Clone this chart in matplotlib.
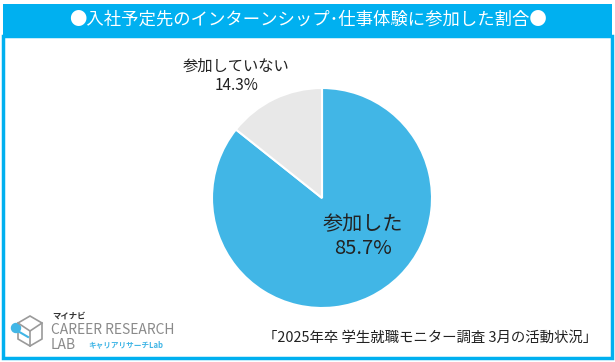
import matplotlib.pyplot as plt
from matplotlib.patches import Rectangle, Polygon, Circle

plt.rcParams['font.family'] = ['Noto Sans CJK JP', 'DejaVu Sans']

# data
labels = ["参加した", "参加していない"]
values = [85.7, 14.3]
colors = ["#41B6E6", "#E8E8E8"]
title = "●入社予定先のインターンシップ･仕事体験に参加した割合●"
source = "「2025年卒 学生就職モニター調査 3月の活動状況」"

W, H = 615, 362
fig = plt.figure(figsize=(W / 100, H / 100), dpi=100)
fig.patch.set_facecolor("white")


def fx(px):
    return px / W


def fy(py):
    return 1 - py / H


# outer frame and title bar
fig.patches.append(Rectangle((fx(3), fy(358)), fx(609), (358 - 36) / H,
                             transform=fig.transFigure, fill=False,
                             edgecolor="#00B0F0", lw=2.5))
fig.patches.append(Rectangle((fx(3), fy(36)), fx(609), 32 / H,
                             transform=fig.transFigure, facecolor="#00B0F0",
                             edgecolor="none"))
fig.text(0.5, fy(20), title, ha="center", va="center", color="white",
         fontsize=12.5)

# pie
ax = fig.add_axes([fx(212), fy(308), 220 / W, 220 / H])
ax.pie(values, colors=colors, startangle=90, counterclock=False,
       wedgeprops=dict(edgecolor="white", linewidth=1.5))
ax.set_xlim(-1, 1)
ax.set_ylim(-1, 1)
ax.set_aspect("equal")
ax.axis("off")

ax.text(0.37, -0.35, f"{labels[0]}\n{values[0]}%", ha="center", va="center",
        fontsize=14.5, color="#222222", linespacing=1.2)
ax.text(-0.78, 1.11, f"{labels[1]}\n{values[1]}%", ha="center", va="center",
        fontsize=11, color="#222222", linespacing=1.1, clip_on=False)

# source
fig.text(fx(597), fy(338), source, ha="right", va="center", fontsize=10.4,
         color="#222222")

# logo
lax = fig.add_axes([fx(8), fy(352), 40 / W, 40 / H])
lax.set_xlim(0, 40)
lax.set_ylim(0, 40)
lax.axis("off")
hexpts = [(22, 36), (34, 29), (34, 13), (22, 6), (10, 13), (10, 29)]
lax.add_patch(Polygon(hexpts, closed=True, fill=False, edgecolor="#9A9A9A", lw=1.2))
lax.plot([22, 22], [6, 21], color="#9A9A9A", lw=1.2)
lax.plot([10, 22, 34], [29, 21, 29], color="#9A9A9A", lw=1.2)
lax.plot([8, 20], [22, 15], color="#41B6E6", lw=1.5)
lax.add_patch(Circle((8, 24), 4.5, color="#41B6E6"))
fig.text(fx(52), fy(316), "マイナビ", fontsize=6, fontweight="bold",
         color="#333333", va="center")
fig.text(fx(51), fy(330), "CAREER RESEARCH", fontsize=10, color="#8A8A8A",
         va="center")
fig.text(fx(51), fy(345), "LAB", fontsize=10, color="#8A8A8A", va="center")
fig.text(fx(88), fy(345), "キャリアリサーチLab", fontsize=5.5, fontweight="bold",
         color="#41B6E6", va="center")

fig.savefig("out.png", dpi=100, facecolor="white")
